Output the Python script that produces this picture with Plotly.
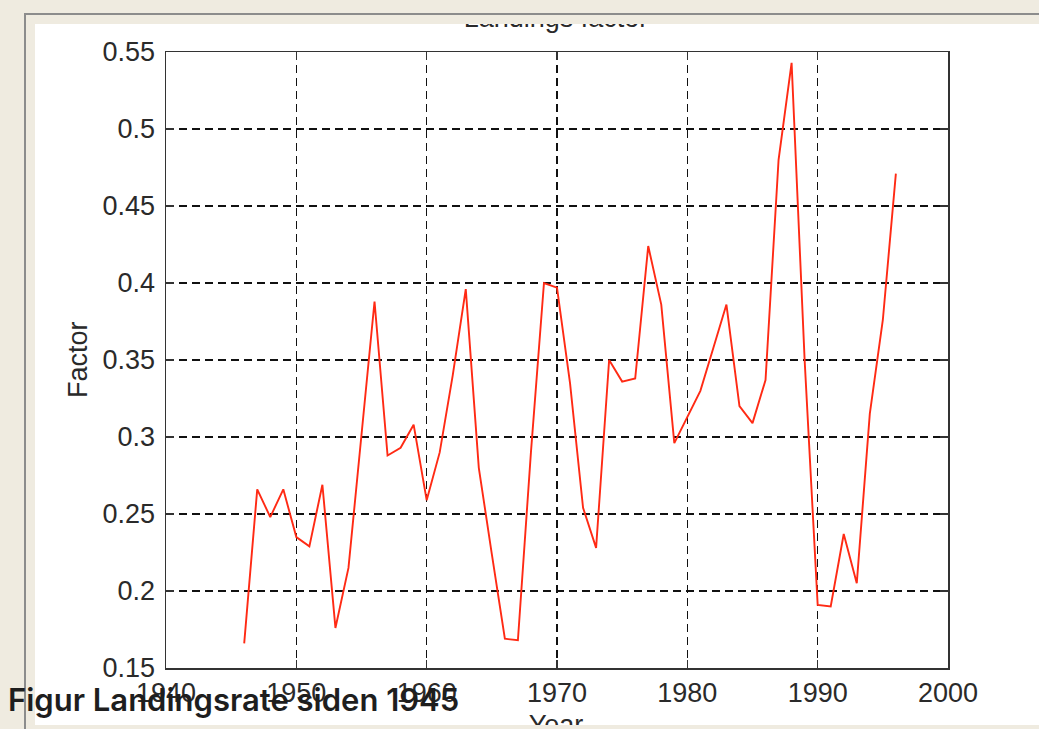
import plotly.graph_objects as go

# ---- data ----
years = list(range(1946, 1997))
factor = [0.166, 0.266, 0.248, 0.266, 0.235, 0.229, 0.269, 0.176, 0.215, 0.300,
          0.388, 0.288, 0.293, 0.308, 0.259, 0.290, 0.340, 0.396, 0.280, 0.224,
          0.169, 0.168, 0.290, 0.400, 0.397, 0.335, 0.254, 0.228, 0.350, 0.336,
          0.338, 0.424, 0.386, 0.296, 0.313, 0.330, 0.358, 0.386, 0.320, 0.309,
          0.337, 0.480, 0.543, 0.350, 0.191, 0.190, 0.237, 0.205, 0.315, 0.376,
          0.471]
x_ticks = [1940, 1950, 1960, 1970, 1980, 1990, 2000]
y_ticks = [0.15, 0.2, 0.25, 0.3, 0.35, 0.4, 0.45, 0.5, 0.55]
y_ticktext = ["0.15", "0.2", "0.25", "0.3", "0.35", "0.4", "0.45", "0.5", "0.55"]
title_text = "Landings factor"
x_label = "Year"
y_label = "Factor"
overlay_text = "Figur Landingsrate siden 1945"

W, H = 1039, 729
def px(x):
    return x / W
def py(y):
    return (H - y) / H

fig = go.Figure()
fig.add_trace(go.Scatter(x=years, y=factor, mode="lines",
                         line=dict(color="#ff2a14", width=1.9),
                         hoverinfo="skip", showlegend=False))

# clipped title / x-label texts (clipped by the white panel subplot)
fig.add_trace(go.Scatter(x=[556, 556], y=[-20.5, -727], mode="text",
                         text=[title_text, x_label], textposition="middle center",
                         textfont=dict(family="Liberation Sans, Arial", size=27, color="#2a2a2a"),
                         cliponaxis=True, xaxis="x2", yaxis="y2",
                         hoverinfo="skip", showlegend=False))

tickfont = dict(family="Liberation Sans, Arial", size=27, color="#2a2a2a")
axis_common = dict(showline=True, linecolor="#333333", linewidth=1.5, mirror="ticks",
                   ticks="inside", ticklen=8, tickwidth=1.3, tickcolor="#333333",
                   showgrid=True, gridcolor="#111111", gridwidth=1.6, griddash="8px,5px",
                   zeroline=False, tickfont=tickfont, automargin=False)

fig.update_layout(
    width=W, height=H,
    margin=dict(l=0, r=0, t=0, b=0, pad=0, autoexpand=False),
    paper_bgcolor="#efebe0",
    plot_bgcolor="rgba(0,0,0,0)",
    showlegend=False,
    xaxis=dict(domain=[px(166), px(948)], range=[1940, 2000], tickvals=x_ticks,
               ticklabelstandoff=0, **axis_common),
    yaxis=dict(domain=[py(668), py(52)], range=[0.15, 0.55], tickvals=y_ticks,
               ticktext=y_ticktext, ticklabelstandoff=4, **axis_common),
    xaxis2=dict(domain=[px(35), 1], range=[35, 1039], visible=False, anchor="y2",
                fixedrange=True),
    yaxis2=dict(domain=[py(725), py(24)], range=[-725, -24], visible=False, anchor="x2",
                fixedrange=True),
    shapes=[
        dict(type="rect", xref="paper", yref="paper", x0=px(35), x1=1, y0=py(725), y1=py(24),
             fillcolor="white", line=dict(width=0), layer="below"),
        dict(type="line", xref="paper", yref="paper", x0=px(24), x1=1, y0=py(14), y1=py(14),
             line=dict(color="#8c8c8c", width=2), layer="below"),
        dict(type="line", xref="paper", yref="paper", x0=px(25), x1=px(25), y0=0, y1=py(14),
             line=dict(color="#8c8c8c", width=2), layer="below"),
    ],
    annotations=[
        dict(text=y_label, xref="paper", yref="paper", x=px(78), y=py(360),
             textangle=-90, showarrow=False, xanchor="center", yanchor="middle",
             font=dict(family="Liberation Sans, Arial", size=27, color="#2a2a2a")),
        dict(text=overlay_text, xref="paper", yref="paper", x=px(6), y=py(699),
             showarrow=False, xanchor="left", yanchor="middle",
             font=dict(family="Inter", size=31, color="#1e1e1e", weight=600)),
    ],
)

fig.write_html("out.html",
               config=dict(displayModeBar=False, staticPlot=True),
               post_script="document.body.style.margin='0';"
                           "document.body.style.background='#efebe0';"
                           "document.body.style.overflow='hidden';")
